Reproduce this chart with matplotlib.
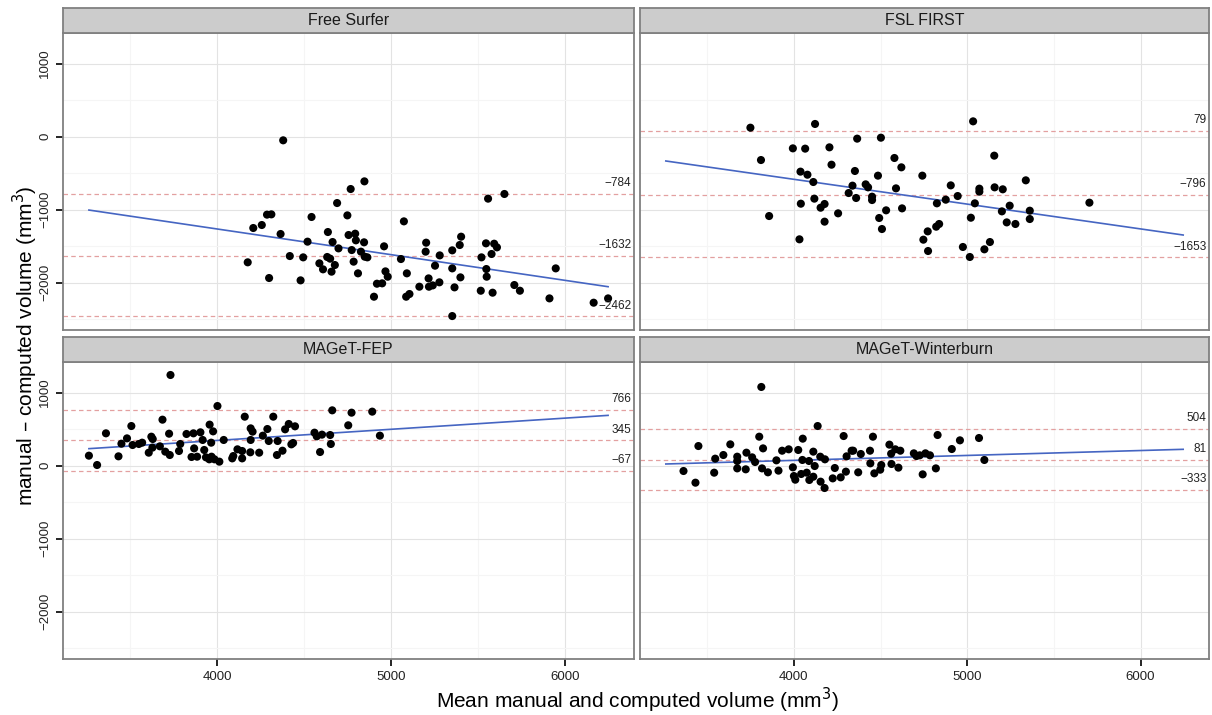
import matplotlib
matplotlib.use("Agg")
import matplotlib.pyplot as plt
import numpy as np

plt.rcParams['font.family'] = ['Liberation Sans', 'DejaVu Sans']

methods = ["Free Surfer", "FSL FIRST", "MAGeT-FEP", "MAGeT-Winterburn"]

fs_x = [4378, 4845, 4766, 5650, 5556, 4688, 4285, 4310, 4541, 4747, 5072, 4255, 4206, 4363,
        4635, 4754, 4792, 4662, 4796, 4843, 4518, 5401, 5200, 5544, 5591, 5607, 5393, 4958,
        4696, 4772, 4825, 5350, 5197, 5576, 4174, 4416, 4493, 4631, 4648, 4847, 4862, 5278,
        5518, 5055, 4783, 4586, 4675, 4607, 4656, 5251, 5350, 5546, 5945, 4808, 4966, 4979,
        5089, 5397, 5548, 4297, 4478, 4917, 4947, 5214, 5276, 5161, 5216, 5238, 5363, 5707,
        5514, 5582, 5739, 4900, 5085, 5104, 5909, 6163, 6246, 5350]
fs_y = [-50, -612, -717, -785, -849, -909, -1068, -1064, -1100, -1078, -1160, -1210, -1251, -1333,
        -1306, -1347, -1329, -1443, -1420, -1447, -1438, -1370, -1452, -1461, -1466, -1516, -1484, -1502,
        -1530, -1553, -1575, -1557, -1575, -1607, -1721, -1635, -1653, -1648, -1671, -1644, -1653, -1626,
        -1653, -1676, -1712, -1735, -1758, -1817, -1849, -1767, -1804, -1813, -1804, -1872, -1845, -1918,
        -1872, -1927, -1918, -1936, -1968, -2014, -2009, -1941, -1995, -2055, -2055, -2037, -2064, -2032,
        -2110, -2137, -2110, -2192, -2192, -2155, -2215, -2274, -2215, -2457]

fsl_x = [3749, 4122, 5034, 3810, 3994, 4065, 4205, 4365, 4502, 4217, 4580, 4620, 5156, 4038,
         4078, 4352, 4485, 4741, 5338, 4112, 4338, 4414, 4428, 4316, 4359, 4451, 4451, 4589,
         4905, 4945, 4876, 4825, 5070, 5070, 5158, 5205, 5044, 5245, 5200, 5361, 5361, 5705,
         4040, 4118, 4177, 4154, 3857, 4255, 4532, 4624, 4492, 4508, 4177, 4032, 5021, 5228,
         5278, 4821, 4838, 4772, 4747, 4774, 4975, 5015, 5099, 5131]
fsl_y = [123, 174, 210, -320, -160, -164, -146, -27, -14, -384, -292, -420, -260, -479,
         -521, -470, -534, -534, -598, -621, -671, -653, -694, -772, -840, -822, -868, -708,
         -667, -813, -863, -913, -712, -753, -694, -721, -913, -945, -1023, -1014, -1128, -904,
         -918, -849, -922, -973, -1087, -1050, -1009, -982, -1114, -1265, -1164, -1406, -1110, -1174,
         -1196, -1233, -1196, -1297, -1411, -1566, -1511, -1648, -1543, -1443]

fep_x = [3730, 4000, 4660, 4771, 4890, 4752, 4934, 3684, 3505, 3359, 3722, 4157, 4321, 3955,
         3975, 3822, 3862, 3902, 4191, 4202, 4287, 4389, 4410, 4446, 4558, 4571, 4601, 4648,
         4652, 4261, 3480, 3448, 3512, 3548, 3567, 3620, 3628, 3626, 3669, 3605, 3700, 3726,
         3779, 3786, 3915, 3964, 4036, 3866, 3924, 3851, 3883, 3934, 3953, 3983, 3966, 4011,
         4085, 4091, 4115, 4142, 4142, 4189, 4240, 4191, 4295, 4346, 4374, 4342, 4425, 4435,
         4590, 3431, 3261, 3308]
fep_y = [1242, 817, 758, 726, 740, 553, 411, 630, 543, 443, 438, 671, 671, 562,
         470, 434, 443, 457, 511, 466, 502, 498, 571, 539, 452, 402, 425, 420,
         297, 411, 374, 301, 283, 297, 315, 397, 365, 247, 265, 178, 192, 146,
         201, 297, 352, 315, 352, 237, 215, 119, 123, 114, 87, 87, 123, 55,
         100, 132, 224, 201, 100, 183, 178, 352, 338, 338, 205, 146, 292, 311,
         187, 128, 137, 9]

mw_x = [3812, 4137, 4287, 4456, 4829, 4958, 5068, 4911, 3800, 4051, 3449, 3633, 3593, 3546,
        3673, 3673, 3726, 3759, 3776, 3822, 3899, 3932, 3970, 4025, 4049, 4087, 4112, 4152,
        4179, 4120, 4304, 4333, 4342, 4386, 4439, 4441, 4551, 4561, 4585, 4614, 4692, 4707,
        4726, 4759, 4785, 5099, 3363, 3432, 3540, 3673, 3722, 3816, 3850, 3911, 3994, 4000,
        4008, 4042, 4074, 4089, 4112, 4154, 4177, 4224, 4236, 4270, 4300, 4371, 4464, 4498,
        4504, 4563, 4603, 4743, 4819]
mw_y = [1078, 543, 406, 397, 420, 347, 379, 228, 397, 370, 269, 292, 146, 96,
        123, 64, 178, 114, 50, 237, 73, 205, 224, 215, 78, 64, 192, 123,
        87, -5, 128, 205, 205, 160, 205, 32, 288, 164, 224, 205, 169, 132,
        142, 169, 142, 78, -73, -233, -96, -37, -50, -37, -91, -68, -23, -142,
        -192, -114, -96, -196, -151, -219, -306, -174, -32, -160, -82, -91, -105, -55,
        9, 23, -27, -119, -37]

# Bland-Altman limits: upper limit, mean difference, lower limit
upper_loa = [-784, 79, 766, 504]
mean_diff = [-1632, -796, 345, 81]
lower_loa = [-2462, -1653, -67, -333]

# regression line values at the ends of the x range
fit_x_range = [3261, 6246]
fit_start = [-1005, -333, 233, 23]
fit_end = [-2055, -1347, 689, 224]

xs = [fs_x, fsl_x, fep_x, mw_x]
ys = [fs_y, fsl_y, fep_y, mw_y]

W, H = 1212, 715
fig = plt.figure(figsize=(W / 100, H / 100), dpi=100)

cols = [(63, 634), (640, 1209)]
rows = [(33, 330), (362, 659)]
strip_h = 25.5

xlim = (3112, 6395)
ylim = (-2648, 1420)

txt_col = '#1a1a1a'
for i, name in enumerate(methods):
    r, c = divmod(i, 2)
    x0, x1 = cols[c]
    y0, y1 = rows[r]
    ax = fig.add_axes([x0 / W, 1 - y1 / H, (x1 - x0) / W, (y1 - y0) / H])
    ax.set_xlim(*xlim)
    ax.set_ylim(*ylim)
    ax.set_xticks([4000, 5000, 6000])
    ax.set_xticks([3500, 4500, 5500], minor=True)
    ax.set_yticks([-2000, -1000, 0, 1000])
    ax.set_yticks([-2500, -1500, -500, 500], minor=True)
    ax.grid(which='major', color='#e3e3e3', lw=0.8)
    ax.grid(which='minor', color='#f5f5f5', lw=0.8)
    ax.set_axisbelow(True)
    for sp in ax.spines.values():
        sp.set_color('#808080')
        sp.set_linewidth(1.3)
    ax.tick_params(which='minor', length=0)
    ax.tick_params(which='major', length=5, width=1.2, color='black',
                   labelsize=9.5, labelcolor='#222222')
    if c == 0:
        ax.tick_params(axis='y', left=True, labelleft=True)
        for lab in ax.get_yticklabels():
            lab.set_rotation(90)
            lab.set_va('center')
    else:
        ax.tick_params(axis='y', left=False, labelleft=False)
    if r == 1:
        ax.tick_params(axis='x', bottom=True, labelbottom=True)
    else:
        ax.tick_params(axis='x', bottom=False, labelbottom=False)

    for val in (upper_loa[i], mean_diff[i], lower_loa[i]):
        ax.axhline(val, color='#e3a0a0', lw=0.9, linestyle=(0, (3.6, 2.6)), zorder=1)
        lab = f"{val}".replace('-', '\u2212')
        ax.text(6380, val + 145, lab, ha='right', va='center', fontsize=8.5,
                color='#222222', zorder=4)

    ax.scatter(xs[i], ys[i], s=34, color='black', edgecolors='none', zorder=3)
    ax.plot(fit_x_range, [fit_start[i], fit_end[i]], color='#4565c2', lw=1.2, zorder=2)

    # strip
    sax = fig.add_axes([x0 / W, 1 - (y0) / H, (x1 - x0) / W, strip_h / H])
    sax.set_facecolor('#cccccc')
    sax.set_xticks([])
    sax.set_yticks([])
    for sp in sax.spines.values():
        sp.set_color('#808080')
        sp.set_linewidth(1.3)
    sax.text(0.5, 0.5, name, ha='center', va='center', fontsize=11.5,
             color=txt_col, transform=sax.transAxes)

fig.text(637 / W, 1 - 700 / H, 'Mean manual and computed volume (mm$^3$)',
         ha='center', va='center', fontsize=15, color='black')
fig.text(25 / W, 1 - 346 / H, 'manual \u2013 computed volume (mm$^3$)',
         ha='center', va='center', rotation=90, fontsize=15, color='black')

fig.savefig('out.png', dpi=100, facecolor='white')
